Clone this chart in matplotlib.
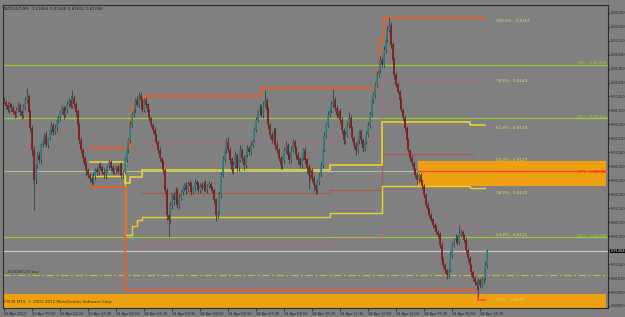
import numpy as np
import matplotlib.pyplot as plt
from matplotlib.patches import Rectangle
from matplotlib.transforms import blended_transform_factory

# M5 bars, prices in points above 0.80000
first_open = 1392
close_pts = [
    1388, 1380, 1371, 1384, 1375, 1367, 1360, 1371, 1380, 1367, 1358, 1375, 1392, 1401, 1367, 1332,
    1285, 1221, 1253, 1274, 1264, 1296, 1306, 1317, 1296, 1311, 1328, 1339, 1324, 1332, 1349, 1354,
    1367, 1375, 1360, 1371, 1384, 1392, 1380, 1397, 1384, 1367, 1339, 1306, 1285, 1268, 1253, 1242,
    1231, 1225, 1216, 1229, 1242, 1238, 1253, 1247, 1238, 1231, 1242, 1251, 1259, 1247, 1238, 1242,
    1247, 1238, 1253, 1231, 1238, 1264, 1285, 1306, 1339, 1360, 1371, 1392, 1382, 1403, 1392, 1371,
    1392, 1382, 1367, 1354, 1339, 1328, 1317, 1302, 1285, 1268, 1257, 1242, 1199, 1145, 1135, 1167,
    1188, 1178, 1199, 1167, 1182, 1195, 1204, 1210, 1199, 1214, 1208, 1195, 1204, 1216, 1210, 1199,
    1210, 1204, 1214, 1199, 1208, 1212, 1204, 1199, 1178, 1145, 1152, 1188, 1231, 1264, 1285, 1302,
    1285, 1264, 1242, 1253, 1274, 1247, 1264, 1285, 1268, 1253, 1274, 1289, 1281, 1296, 1306, 1328,
    1349, 1367, 1375, 1360, 1382, 1392, 1371, 1339, 1317, 1306, 1328, 1296, 1285, 1268, 1253, 1264,
    1285, 1296, 1274, 1264, 1285, 1302, 1289, 1274, 1264, 1253, 1268, 1285, 1264, 1247, 1231, 1242,
    1225, 1210, 1199, 1216, 1231, 1253, 1285, 1317, 1339, 1360, 1371, 1382, 1392, 1375, 1360, 1367,
    1349, 1328, 1306, 1317, 1339, 1354, 1332, 1311, 1296, 1285, 1306, 1324, 1306, 1289, 1302, 1317,
    1339, 1360, 1392, 1403, 1425, 1446, 1457, 1478, 1468, 1500, 1521, 1543, 1553, 1511, 1478, 1446,
    1425, 1410, 1392, 1371, 1354, 1332, 1306, 1285, 1268, 1257, 1242, 1231, 1221, 1231, 1216, 1208,
    1188, 1167, 1156, 1145, 1135, 1124, 1118, 1109, 1103, 1081, 1049, 1038, 1027, 1017, 1027, 1060,
    1081, 1092, 1096, 1088, 1103, 1109, 1101, 1092, 1070, 1053, 1038, 1023, 1010, 1001, 995, 1006,
    995, 1006, 1010, 1038, 1068,
]
up_wick = [
    6, 4, 8, 5, 3, 7, 4, 6, 9, 5, 4, 8, 6, 17, 5, 4,
    6, 8, 5, 7, 9, 4, 6, 5, 8, 3, 6, 7, 5, 9, 4, 6,
    5, 7, 4, 8, 6, 5, 9, 17, 6, 4, 5, 3, 6, 5, 4, 7,
    5, 4, 6, 8, 5, 7, 4, 6, 5, 8, 6, 4, 7, 5, 6, 4,
    5, 6, 4, 7, 5, 6, 8, 5, 9, 6, 7, 5, 8, 7, 6, 4,
    5, 6, 4, 7, 3, 5, 6, 4, 5, 7, 3, 6, 4, 5, 8, 6,
    5, 7, 6, 4, 8, 5, 6, 4, 7, 5, 6, 8, 4, 6, 5, 7,
    4, 6, 5, 7, 4, 6, 5, 3, 5, 4, 7, 9, 6, 8, 5, 9,
    12, 6, 5, 8, 9, 4, 6, 10, 5, 7, 8, 6, 5, 9, 7, 6,
    7, 5, 9, 6, 8, 22, 5, 6, 4, 7, 5, 6, 8, 4, 5, 7,
    6, 9, 5, 7, 8, 6, 5, 4, 7, 6, 8, 5, 6, 4, 7, 5,
    4, 6, 5, 7, 5, 6, 8, 7, 5, 9, 6, 8, 25, 6, 7, 5,
    8, 6, 5, 9, 7, 12, 6, 5, 4, 7, 8, 5, 6, 4, 7, 8,
    6, 8, 9, 7, 6, 8, 5, 9, 7, 8, 10, 9, 17, 6, 5, 7,
    6, 5, 4, 7, 5, 6, 4, 5, 3, 6, 4, 5, 7, 4, 5, 6,
    5, 4, 6, 5, 4, 3, 5, 6, 4, 5, 6, 4, 5, 3, 6, 8,
    6, 5, 8, 7, 21, 6, 5, 4, 6, 5, 4, 3, 5, 4, 6, 5,
    4, 6, 5, 8, 5,
]
dn_wick = [
    5, 7, 4, 6, 8, 5, 6, 4, 5, 7, 6, 4, 5, 6, 8, 9,
    12, 65, 9, 7, 6, 8, 5, 7, 4, 6, 5, 8, 6, 4, 7, 5,
    6, 5, 8, 4, 7, 6, 5, 4, 6, 8, 5, 7, 6, 9, 8, 12,
    7, 9, 6, 5, 8, 6, 7, 5, 4, 6, 8, 5, 7, 6, 5, 4,
    6, 5, 7, 6, 8, 5, 4, 6, 5, 7, 4, 6, 5, 4, 6, 5,
    4, 6, 5, 7, 5, 6, 4, 5, 7, 6, 5, 8, 6, 10, 36, 7,
    8, 12, 7, 6, 9, 5, 7, 6, 8, 5, 6, 7, 5, 8, 6, 5,
    6, 5, 7, 4, 6, 5, 8, 6, 9, 12, 7, 5, 6, 4, 5, 6,
    5, 8, 6, 9, 7, 8, 6, 5, 7, 10, 6, 5, 7, 6, 5, 4,
    5, 4, 6, 5, 7, 4, 6, 8, 7, 5, 6, 9, 7, 6, 8, 9,
    7, 6, 8, 10, 6, 5, 7, 9, 8, 6, 7, 5, 9, 12, 30, 10,
    8, 12, 9, 7, 6, 5, 7, 4, 6, 5, 4, 6, 5, 7, 6, 5,
    6, 8, 9, 7, 5, 6, 8, 7, 9, 10, 6, 7, 8, 9, 6, 5,
    5, 6, 4, 5, 6, 4, 5, 7, 5, 4, 6, 5, 4, 6, 5, 8,
    4, 5, 6, 5, 7, 6, 8, 5, 6, 7, 5, 6, 8, 6, 5, 7,
    6, 5, 7, 6, 5, 7, 6, 5, 8, 6, 9, 7, 6, 8, 6, 5,
    6, 5, 7, 6, 5, 4, 6, 5, 7, 6, 5, 8, 7, 6, 10, 25,
    6, 5, 8, 4, 6,
]

time_labels = ["23 Apr 2012", "23 Apr 20:55", "23 Apr 22:15", "23 Apr 23:35",
               "24 Apr 00:55", "24 Apr 02:15", "24 Apr 03:35", "24 Apr 04:55",
               "24 Apr 06:15", "24 Apr 07:35", "24 Apr 08:55", "24 Apr 10:15",
               "24 Apr 11:35", "24 Apr 12:55", "24 Apr 14:15", "24 Apr 15:35",
               "24 Apr 16:55", "24 Apr 18:15"]
bars_per_label = 16

# indicator step lines: (from bar, to bar, price pts)
outer_up = [(49, 72, 1290), (72, 73, 1349), (73, 76, 1382), (76, 80, 1392), (80, 147, 1401),
            (147, 213, 1418), (213, 215, 1457), (215, 217, 1521), (217, 275, 1569)]
outer_dn = [(49, 69, 1205), (69, 271, 984), (271, 275, 963)]
yel_up = [(49, 69, 1259), (69, 72, 1214), (72, 79, 1227), (79, 186, 1242), (186, 216, 1253),
          (216, 266, 1345), (266, 275, 1339)]
yel_dn = [(49, 69, 1229), (69, 73, 1103), (73, 76, 1122), (76, 79, 1135), (79, 186, 1141),
          (186, 216, 1150), (216, 266, 1208), (266, 275, 1203)]
pur_up = [(79, 186, 1302), (186, 216, 1311), (216, 271, 1435), (271, 275, 1430)]
pur_dn = [(72, 79, 1073), (79, 186, 1088), (186, 216, 1096), (216, 271, 1122), (271, 275, 1109)]
mid_line = [(79, 186, 1192), (186, 216, 1199), (216, 268, 1277)]

fib_levels = [("100.0%", 0.8157), ("78.6%", 0.8144), ("61.8%", 0.8134), ("50.0%", 0.8127),
              ("38.2%", 0.8120), ("23.6%", 0.8111), ("0.0%", 0.8097)]
pivots = [("[R2] - 0.81468", 0.81468), ("[R1] - 0.81354", 0.81354), ("[S1] - 0.81098", 0.81098)]
pivot_pp = ("[PP] - 0.81240", 0.81240)
zone1 = (236.5, 0.81261, 0.81208)
zone2 = (-1, 0.80976, 0.80940)
bid = 0.81068
order_price = 0.81016
order_label = "#18088120 buy"
title = "NZDUSD,M5  0.81060 0.81068 0.81052 0.81068"


def pr(p):
    return 0.8 + np.asarray(p, dtype=float) / 1e5


closes = pr(close_pts)
opens = np.r_[pr(first_open), closes[:-1]]
highs = np.maximum(opens, closes) + np.array(up_wick) / 1e5
lows = np.minimum(opens, closes) - np.array(dn_wick) / 1e5
idx = np.arange(len(closes))

fig = plt.figure(figsize=(6.25, 3.17), dpi=100)
fig.patch.set_facecolor('#808080')
ax = fig.add_axes([3 / 625, 9 / 317, 605 / 625, 303 / 317])
ax.set_facecolor('#808080')
ax.set_xlim(-0.6, 345.1)
ax.set_ylim(0.809457, 0.815965)

# zones
for x0, top, bot in (zone1, zone2):
    ax.add_patch(Rectangle((x0, bot), 345.1 - x0 - 1.2, top - bot, facecolor='#eda10e',
                           edgecolor='none', zorder=1))

# pivot lines
for txt, p in pivots:
    ax.axhline(p, color='#9acd32', lw=0.9, zorder=2)
    ax.text(344, p, txt, color='#9acd32', fontsize=3.0, ha='right', va='bottom', zorder=6)
ax.axhline(pivot_pp[1], color='#a8c890', lw=0.8, zorder=2)
ax.plot([236.5, 344], [pivot_pp[1]] * 2, color='#ff3b1f', lw=0.9, zorder=2)
ax.text(344, pivot_pp[1], pivot_pp[0], color='#ff2a10', fontsize=3.0, ha='right', va='center', zorder=6)

# bid and order lines
ax.axhline(bid, color='#c8c8c8', lw=0.9, zorder=2)
ax.axhline(order_price, color='#c4bc3c', lw=0.9, ls=(0, (6, 2, 1.5, 2)), zorder=2)
ax.text(1.5, order_price + 0.00003, order_label, color='#2e2e10', fontsize=2.8, va='bottom', zorder=6)


def step(segs, **kw):
    xs, ys = [], []
    for a, b, p in segs:
        xs += [a, b]
        ys += [p, p]
    ax.plot(xs, pr(ys), zorder=3, **kw)


step(pur_up, color='#a0708c', lw=0.9)
step(pur_dn, color='#a0708c', lw=0.9)
step(mid_line, color='#a85a50', lw=0.9)
step(yel_up, color='#ecd424', lw=1.2)
step(yel_dn, color='#ecd424', lw=1.0)
step(outer_up, color='#f25c23', lw=1.3)
step(outer_dn, color='#f25c23', lw=1.3)

# fibo labels
for name, lv in fib_levels:
    ax.text(281, lv - 0.00003, f"{name} - {lv:.4f}", color='#e4dc6a', fontsize=3.0,
            va='top', ha='left', zorder=6)

# candles
ax.vlines(idx, lows, highs, color='#3a3a3a', lw=0.6, zorder=4)
bull = closes >= opens
body_lo = np.minimum(opens, closes)
body_hi = np.maximum(opens, closes) + 0.000008
ax.vlines(idx[bull], body_lo[bull], body_hi[bull], color='#2c8282', lw=1.2, zorder=5)
ax.vlines(idx[~bull], body_lo[~bull], body_hi[~bull], color='#8e1616', lw=1.2, zorder=5)

# axes styling
for s in ax.spines.values():
    s.set_color('#2a2a2a')
    s.set_linewidth(0.8)
yt = np.round(np.arange(0.8095, 0.81590, 0.0003), 5)
ax.yaxis.tick_right()
ax.set_yticks(yt)
ax.set_yticklabels(["" if abs(v - bid) < 0.00012 else f"{v:.5f}" for v in yt])
ax.set_xticks(np.arange(len(time_labels)) * bars_per_label)
ax.set_xticklabels(time_labels)
for lab in ax.get_xticklabels():
    lab.set_ha('left')
ax.tick_params(axis='both', colors='#222222', length=2, width=0.5, pad=1)
ax.tick_params(axis='y', labelsize=2.5, length=1.5, pad=0.6)
ax.tick_params(axis='x', labelsize=2.6, labelcolor='#1e1e1e')

tr = blended_transform_factory(ax.transAxes, ax.transData)
ax.text(1.004, bid, f"{bid:.5f}", transform=tr, color='white', fontsize=2.5, va='center',
        ha='left', bbox=dict(boxstyle='square,pad=0.1', fc='black', ec='none'), clip_on=False, zorder=7)

fig.text(4 / 625, 1 - 9 / 317, title, color='#1c1c1c', fontsize=3.0, va='center', ha='left')
fig.text(4 / 625, 1 - 302 / 317, "FXCM MT4, \u00a9 2001-2012 MetaQuotes Software Corp.",
         color='#4a2e08', fontsize=3.0, va='center', ha='left')

fig.savefig('out.png', dpi=100, facecolor=fig.get_facecolor())
